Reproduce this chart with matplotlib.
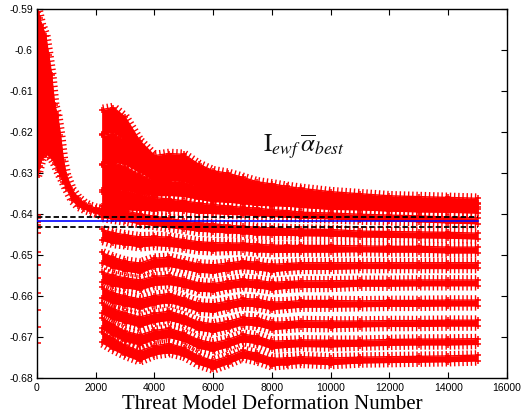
import matplotlib
matplotlib.use('Agg')
import matplotlib.pyplot as plt
from matplotlib import patheffects as pe
import numpy as np

# ---------------- data ----------------
# initial run, x = 0 .. 2200 (upper / lower envelope of its markers)
init_x = [0, 50, 100, 150, 200, 300, 400, 500, 600, 700, 800, 900, 1000,
          1200, 1400, 1600, 1800, 2000, 2200]
init_top = [-0.5910, -0.5907, -0.5922, -0.5939, -0.5946, -0.5966, -0.6012,
            -0.6061, -0.6134, -0.6158, -0.6207, -0.6268, -0.6304, -0.6341,
            -0.6360, -0.6372, -0.6380, -0.6385, -0.6387]
init_bot = [-0.6309, -0.6297, -0.6282, -0.6268, -0.6260, -0.6251, -0.6256,
            -0.6263, -0.6275, -0.6292, -0.6307, -0.6321, -0.6336, -0.6365,
            -0.6380, -0.6387, -0.6392, -0.6397, -0.6402]

# starting values plotted at x = 0
start_vals = [-0.6402, -0.6409, -0.6419, -0.6426, -0.6433, -0.6446, -0.6492,
              -0.6523, -0.6555, -0.6591, -0.6633, -0.6674, -0.6713]

# common deformation numbers for the runs from 2200 on
run_x = [2200, 2600, 3000, 3500, 4000, 4500, 5000, 5500, 6000, 6500, 7000,
         7500, 8000, 8500, 9000, 10000, 11000, 12000, 13000, 14000, 15000]

U1 = [-0.6175, -0.6170, -0.6190, -0.6243, -0.6273, -0.6268, -0.6270, -0.6292,
      -0.6307, -0.6312, -0.6321, -0.6331, -0.6336, -0.6341, -0.6346, -0.6353,
      -0.6358, -0.6362, -0.6364, -0.6366, -0.6368]
U1_hw = [0.0030, 0.0030, 0.0027, 0.0022, 0.0016, 0.0016, 0.0016, 0.0014,
         0.0013, 0.0012, 0.0011, 0.0010, 0.0010, 0.0009, 0.0009, 0.0008,
         0.0008, 0.0007, 0.0007, 0.0007, 0.0007]
U2 = [-0.6243, -0.6239, -0.6248, -0.6273, -0.6297, -0.6297, -0.6299, -0.6317,
      -0.6329, -0.6334, -0.6341, -0.6348, -0.6353, -0.6357, -0.6360, -0.6366,
      -0.6370, -0.6374, -0.6376, -0.6377, -0.6379]
U2_hw = [0.0036, 0.0034, 0.0030, 0.0024, 0.0020, 0.0020, 0.0019, 0.0017,
         0.0015, 0.0014, 0.0012, 0.0011, 0.0010, 0.0010, 0.0009, 0.0008,
         0.0008, 0.0007, 0.0007, 0.0007, 0.0007]
U3 = [-0.6312, -0.6307, -0.6312, -0.6326, -0.6336, -0.6336, -0.6338, -0.6348,
      -0.6355, -0.6358, -0.6363, -0.6368, -0.6370, -0.6372, -0.6375, -0.6380,
      -0.6382, -0.6385, -0.6387, -0.6388, -0.6390]
U3_hw = [0.0034, 0.0032, 0.0028, 0.0022, 0.0019, 0.0018, 0.0018, 0.0015,
         0.0014, 0.0012, 0.0011, 0.0010, 0.0009, 0.0008, 0.0008, 0.0008,
         0.0007, 0.0007, 0.0007, 0.0007, 0.0007]
U4 = [-0.6370, -0.6365, -0.6365, -0.6370, -0.6375, -0.6377, -0.6380, -0.6385,
      -0.6387, -0.6390, -0.6392, -0.6394, -0.6397, -0.6399, -0.6402, -0.6404,
      -0.6407, -0.6409, -0.6411, -0.6414, -0.6416]
U4_hw = [0.0030, 0.0027, 0.0024, 0.0020, 0.0016, 0.0014, 0.0013, 0.0012,
         0.0011, 0.0010, 0.0009, 0.0009, 0.0008, 0.0008, 0.0007, 0.0007,
         0.0007, 0.0007, 0.0007, 0.0007, 0.0007]

L0 = [-0.6394, -0.6399, -0.6404, -0.6411, -0.6416, -0.6421, -0.6426, -0.6431,
      -0.6433, -0.6436, -0.6438, -0.6441, -0.6442, -0.6443, -0.6444, -0.6445,
      -0.6448, -0.6449, -0.6450, -0.6451, -0.6453]
LA = [-0.6450, -0.6458, -0.6462, -0.6467, -0.6465, -0.6467, -0.6472, -0.6477,
      -0.6479, -0.6479, -0.6479, -0.6482, -0.6484, -0.6484, -0.6484, -0.6484,
      -0.6484, -0.6485, -0.6485, -0.6487, -0.6487]
LB = [-0.6506, -0.6518, -0.6526, -0.6531, -0.6518, -0.6516, -0.6523, -0.6531,
      -0.6533, -0.6528, -0.6523, -0.6526, -0.6531, -0.6528, -0.6526, -0.6526,
      -0.6525, -0.6525, -0.6525, -0.6525, -0.6525]
LC = [-0.6553, -0.6562, -0.6567, -0.6572, -0.6562, -0.6560, -0.6567, -0.6577,
      -0.6579, -0.6572, -0.6567, -0.6570, -0.6575, -0.6572, -0.6570, -0.6570,
      -0.6568, -0.6568, -0.6567, -0.6567, -0.6567]
LD = [-0.6591, -0.6604, -0.6611, -0.6618, -0.6609, -0.6604, -0.6614, -0.6626,
      -0.6628, -0.6621, -0.6614, -0.6616, -0.6623, -0.6621, -0.6618, -0.6618,
      -0.6618, -0.6617, -0.6617, -0.6616, -0.6616]
LE = [-0.6628, -0.6643, -0.6652, -0.6662, -0.6652, -0.6647, -0.6657, -0.6672,
      -0.6677, -0.6670, -0.6660, -0.6662, -0.6672, -0.6670, -0.6667, -0.6668,
      -0.6667, -0.6666, -0.6666, -0.6665, -0.6665]
LF = [-0.6665, -0.6682, -0.6697, -0.6706, -0.6694, -0.6689, -0.6699, -0.6716,
      -0.6723, -0.6714, -0.6701, -0.6706, -0.6718, -0.6716, -0.6714, -0.6715,
      -0.6714, -0.6712, -0.6711, -0.6711, -0.6710]
LG = [-0.6699, -0.6716, -0.6731, -0.6745, -0.6731, -0.6726, -0.6735, -0.6755,
      -0.6767, -0.6755, -0.6740, -0.6748, -0.6760, -0.6758, -0.6755, -0.6758,
      -0.6755, -0.6754, -0.6753, -0.6752, -0.6750]
low_hw = [0.0013, 0.0013, 0.0012, 0.0012, 0.0011, 0.0011, 0.0010, 0.0010,
          0.0010, 0.0009, 0.0009, 0.0009, 0.0009, 0.0008, 0.0008, 0.0008,
          0.0007, 0.0007, 0.0007, 0.0007, 0.0007]

# reference lines
ref_x = [0, 15000]
best_mean = -0.6416
best_upper = -0.6406
best_lower = -0.6430

x_ticks = [0, 2000, 4000, 6000, 8000, 10000, 12000, 14000, 16000]
y_ticks = [-0.68, -0.67, -0.66, -0.65, -0.64, -0.63, -0.62, -0.61, -0.60, -0.59]
y_ticklabels = ['-0.68', '-0.67', '-0.66', '-0.65', '-0.64', '-0.63', '-0.62',
                '-0.61', '-0.6', '-0.59']

# ---------------- drawing ----------------
RED = '#ff0000'
fig = plt.figure(figsize=(5.21, 4.19), dpi=100)
ax = fig.add_axes([0.0710, 0.0967, 0.9021, 0.8818])


def draw_region(x, lo, hi):
    ax.fill_between(x, lo, hi, color=RED, lw=0, zorder=2)
    ax.plot(x, hi, color=RED, lw=1.0, zorder=2,
            path_effects=[pe.withTickedStroke(spacing=3, angle=90, length=1.0)])
    ax.plot(x, lo, color=RED, lw=1.0, zorder=2,
            path_effects=[pe.withTickedStroke(spacing=3, angle=-90, length=1.0)])
    ax.plot(x, hi, '+', color=RED, ms=5, mew=1.1, zorder=2)
    ax.plot(x, lo, '+', color=RED, ms=5, mew=1.1, zorder=2)


def draw_band(x, c, hw):
    c = np.asarray(c)
    hw = np.asarray(hw)
    draw_region(x, c - hw, c + hw)


draw_region(init_x, init_bot, init_top)
ax.plot([0] * len(start_vals), start_vals, '+', color=RED, ms=6, mew=1.1,
        zorder=2)

for c, hw in [(U1, U1_hw), (U2, U2_hw), (U3, U3_hw), (U4, U4_hw)]:
    draw_band(run_x, c, hw)
for c in [L0, LA, LB, LC, LD, LE, LF, LG]:
    draw_band(run_x, c, low_hw)

ax.plot(ref_x, [best_upper] * 2, color='black', lw=1.3, ls=(0, (3, 1.6)),
        zorder=4)
ax.plot(ref_x, [best_lower] * 2, color='black', lw=1.3, ls=(0, (3, 1.6)),
        zorder=4)
ax.plot(ref_x, [best_mean] * 2, color='#0000ff', lw=1.2, zorder=4)

ax.set_xlim(0, 16000)
ax.set_ylim(-0.68, -0.59)
ax.set_xticks(x_ticks)
ax.set_xticklabels([str(t) for t in x_ticks])
ax.set_yticks(y_ticks)
ax.set_yticklabels(y_ticklabels)
ax.tick_params(direction='in', top=True, right=True, length=4, width=0.8,
               labelsize=7.5, pad=3)
for lab in ax.get_xticklabels() + ax.get_yticklabels():
    lab.set_family('Liberation Sans')
for s in ax.spines.values():
    s.set_linewidth(1.0)

plt.rcParams['mathtext.fontset'] = 'stix'
ax.text(7700, -0.6248, r'$\mathrm{I}_{ewf}\,\overline{\alpha}_{best}$',
        fontsize=18, ha='left', va='baseline', color='#111111')
ax.set_xlabel('Threat Model Deformation Number', family='Liberation Serif',
              fontsize=15, labelpad=2)

fig.savefig('out.png', dpi=100)
